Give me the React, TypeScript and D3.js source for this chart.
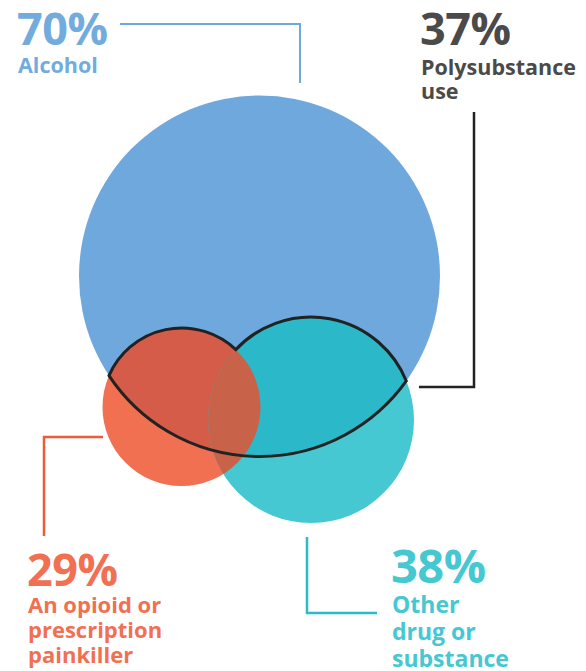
import React from "react";
import * as d3 from "d3";

// ---- data ----
const categories = ["Alcohol", "Polysubstance use", "An opioid or prescription painkiller", "Other drug or substance"];
const values = [70, 37, 29, 38];
const labelLines = [["Alcohol"], ["Polysubstance", "use"], ["An opioid or", "prescription", "painkiller"], ["Other", "drug or", "substance"]];

// ---- layout / style ----
const W = 586, H = 671;
const circles = {
  alcohol: { cx: 259.5, cy: 276, r: 180.5 },
  opioid: { cx: 181.5, cy: 407, r: 79 },
  other: { cx: 311, cy: 420, r: 103 },
};
const colors = {
  alcohol: "#6fa8dc",
  opioid: "#f27052",
  other: "#45c8d2",
  alcOpioid: "#d65c4a",
  alcOther: "#2bb9ca",
  opioidOther: "#c8634a",
  poly: "#222222",
  text: ["#72abde", "#4a4a4a", "#f27052", "#45c8d2"],
};
const labelPos = [
  { x: 17, y: 45, numSize: 45, labSize: 21.5, off: 28, lh: 24 },
  { x: 420, y: 45, numSize: 45, labSize: 21.5, off: 30, lh: 24 },
  { x: 27, y: 586, numSize: 45, labSize: 22, off: 27, lh: 25 },
  { x: 391, y: 583, numSize: 47, labSize: 23, off: 30, lh: 27 },
];
const leaders = [
  [[120, 24], [300, 24], [300, 83]],
  [[474, 112], [474, 387], [419, 387]],
  [[103, 437], [44, 437], [44, 536]],
  [[307, 537], [307, 613], [377, 613]],
];

type C = { cx: number; cy: number; r: number };
function intersect(a: C, b: C): [number, number][] {
  const dx = b.cx - a.cx, dy = b.cy - a.cy;
  const d = Math.hypot(dx, dy);
  const l = (a.r * a.r - b.r * b.r + d * d) / (2 * d);
  const h = Math.sqrt(Math.max(0, a.r * a.r - l * l));
  const mx = a.cx + (dx * l) / d, my = a.cy + (dy * l) / d;
  return [
    [mx + (h * dy) / d, my - (h * dx) / d],
    [mx - (h * dy) / d, my + (h * dx) / d],
  ];
}

export default function App() {
  const A = circles.alcohol, O = circles.opioid, T = circles.other;
  const p1 = intersect(A, O).sort((a, b) => a[0] - b[0])[0];
  const p2 = intersect(A, T).sort((a, b) => b[0] - a[0])[0];
  const p3 = intersect(O, T).sort((a, b) => a[1] - b[1])[0];
  const arcStr =
    `M${p1[0]},${p1[1]}` +
    `A${O.r},${O.r} 0 0 1 ${p3[0]},${p3[1]}` +
    `A${T.r},${T.r} 0 0 1 ${p2[0]},${p2[1]}` +
    `A${A.r},${A.r} 0 0 1 ${p1[0]},${p1[1]}Z`;
  const line = d3.line();
  const font = "'Open Sans', 'Noto Sans', sans-serif";
  return (
    <svg width={W} height={H} style={{ position: "absolute", left: 0, top: 0 }}>
      <defs>
        <clipPath id="clipA"><circle cx={A.cx} cy={A.cy} r={A.r} /></clipPath>
        <clipPath id="clipT"><circle cx={T.cx} cy={T.cy} r={T.r} /></clipPath>
      </defs>
      <circle cx={A.cx} cy={A.cy} r={A.r} fill={colors.alcohol} />
      <circle cx={O.cx} cy={O.cy} r={O.r} fill={colors.opioid} />
      <circle cx={T.cx} cy={T.cy} r={T.r} fill={colors.other} />
      <circle cx={O.cx} cy={O.cy} r={O.r} fill={colors.alcOpioid} clipPath="url(#clipA)" />
      <circle cx={T.cx} cy={T.cy} r={T.r} fill={colors.alcOther} clipPath="url(#clipA)" />
      <circle cx={O.cx} cy={O.cy} r={O.r} fill={colors.opioidOther} clipPath="url(#clipT)" />
      <path d={arcStr} fill="none" stroke={colors.poly} strokeWidth={3} strokeLinejoin="miter" />
      {leaders.map((pts, i) => (
        <path key={i} d={line(pts as [number, number][]) || ""} fill="none"
          stroke={i === 1 ? "#222" : i === 2 ? "#ee5a3a" : i === 3 ? "#2bbccb" : "#6fa8dc"}
          strokeWidth={i === 0 ? 2 : 2.5} />
      ))}
      {categories.map((c, i) => {
        const p = labelPos[i];
        return (
          <g key={c} fill={colors.text[i]} fontFamily={font} fontWeight={700}>
            <text x={p.x} y={p.y} fontSize={p.numSize} letterSpacing={-0.5}>{values[i]}%</text>
            <text x={p.x + 1} y={p.y + p.off} fontSize={p.labSize}>
              {labelLines[i].map((l, j) => (
                <tspan key={j} x={p.x + 1} dy={j === 0 ? 0 : p.lh}>{l}</tspan>
              ))}
            </text>
          </g>
        );
      })}
    </svg>
  );
}
